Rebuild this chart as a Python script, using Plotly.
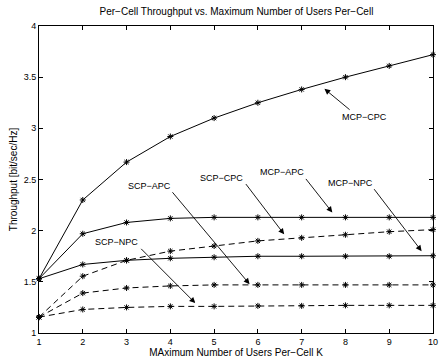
import plotly.graph_objects as go

K = [1, 2, 3, 4, 5, 6, 7, 8, 9, 10]
mcp_cpc = [1.53, 2.30, 2.67, 2.92, 3.10, 3.25, 3.38, 3.50, 3.61, 3.72]
mcp_apc = [1.53, 1.97, 2.08, 2.12, 2.13, 2.13, 2.13, 2.13, 2.13, 2.13]
mcp_npc = [1.53, 1.67, 1.71, 1.73, 1.74, 1.75, 1.75, 1.75, 1.75, 1.755]
scp_cpc = [1.155, 1.555, 1.71, 1.80, 1.85, 1.90, 1.93, 1.96, 1.99, 2.01]
scp_apc = [1.155, 1.39, 1.44, 1.46, 1.47, 1.47, 1.47, 1.47, 1.47, 1.47]
scp_npc = [1.155, 1.23, 1.25, 1.26, 1.26, 1.265, 1.265, 1.27, 1.27, 1.27]

series = [
    ("MCP-CPC", mcp_cpc, "solid"),
    ("MCP-APC", mcp_apc, "solid"),
    ("MCP-NPC", mcp_npc, "solid"),
    ("SCP-CPC", scp_cpc, "6px,4px"),
    ("SCP-APC", scp_apc, "6px,4px"),
    ("SCP-NPC", scp_npc, "6px,4px"),
]

# label text position, arrow tail, arrow head (data coords)
labels = [
    ("MCP\u2212CPC", (8.43, 3.11), (8.13, 3.17), (7.52, 3.386)),
    ("MCP\u2212APC", (6.55, 2.57), (7.07, 2.52), (7.70, 2.178)),
    ("SCP\u2212CPC", (5.18, 2.51), (5.70, 2.47), (6.60, 1.964)),
    ("MCP\u2212NPC", (8.11, 2.47), (8.63, 2.42), (9.74, 1.80)),
    ("SCP\u2212APC", (3.53, 2.44), (4.02, 2.39), (5.81, 1.477)),
    ("SCP\u2212NPC", (2.78, 1.886), (3.30, 1.837), (4.57, 1.292)),
]

fig = go.Figure()
for name, vals, dash in series:
    fig.add_trace(go.Scatter(
        x=K, y=vals, mode="lines+markers", name=name,
        line=dict(color="black", width=1, dash=dash),
        marker=dict(symbol="asterisk-open", size=5, color="black",
                    line=dict(color="black", width=1)),
        showlegend=False, cliponaxis=False,
    ))

font = dict(family="Liberation Sans, Arial, sans-serif", size=9, color="black")
for text, tpos, tail, head in labels:
    fig.add_annotation(x=tpos[0], y=tpos[1], xref="x", yref="y", text=text,
                       showarrow=False, font=font)
    fig.add_annotation(x=head[0], y=head[1], ax=tail[0], ay=tail[1],
                       xref="x", yref="y", axref="x", ayref="y", text="",
                       showarrow=True, arrowhead=2, arrowsize=1.3,
                       arrowwidth=0.9, arrowcolor="black", standoff=0)

axis_common = dict(
    showline=True, linecolor="black", linewidth=1, mirror="ticks",
    ticks="inside", ticklen=4, tickcolor="black", showgrid=False,
    zeroline=False, tickfont=font, ticklabeloverflow="allow",
)
fig.update_xaxes(range=[1, 10], tickvals=K, title=dict(
    text="MAximum Number of Users Per\u2212Cell K", font=dict(font, size=10), standoff=2),
    **axis_common)
fig.update_yaxes(range=[1, 4], tickvals=[1, 1.5, 2, 2.5, 3, 3.5, 4],
                 ticktext=["1", "1.5", "2", "2.5", "3", "3.5", "4"],
                 title=dict(text="Throughput [bit/sec/Hz]", font=dict(font, size=10), standoff=4),
                 **axis_common)
fig.update_layout(
    width=442, height=360,
    margin=dict(l=39, r=4, t=26, b=26),
    paper_bgcolor="white", plot_bgcolor="white",
    title=dict(text="Per\u2212Cell Throughput vs. Maximum Number of Users Per\u2212Cell",
               font=dict(font, size=10), x=0.535, xanchor="center", y=0.968, yanchor="middle"),
)
fig.write_html("out.html")
